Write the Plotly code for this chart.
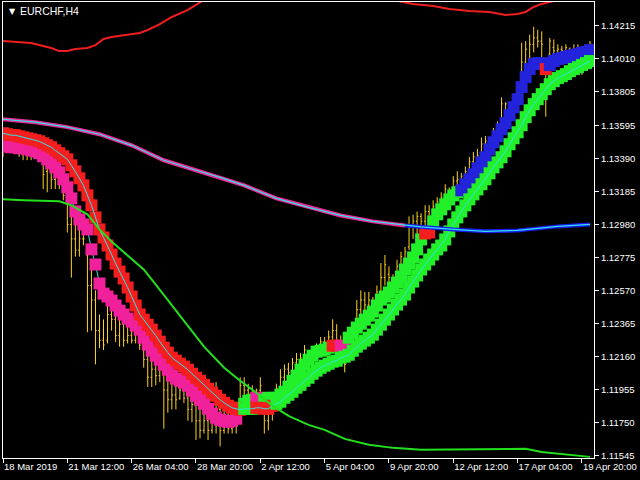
import plotly.graph_objects as go

# ---------------- data ----------------
x_tick_bars = [0, 16, 32, 48, 64, 80, 96, 112, 128, 144]
x_tick_labels = ["18 Mar 2019", "21 Mar 12:00", "26 Mar 04:00", "28 Mar 20:00", "2 Apr 12:00",
                 "5 Apr 04:00", "9 Apr 20:00", "12 Apr 12:00", "17 Apr 04:00", "19 Apr 20:00"]
y_tick_vals = [1.11545, 1.11750, 1.11955, 1.12160, 1.12365, 1.12570, 1.12775, 1.12980,
               1.13185, 1.13390, 1.13595, 1.13805, 1.14010, 1.14215]
y_tick_labels = ["1.11545", "1.11750", "1.11955", "1.12160", "1.12365", "1.12570", "1.12775", "1.12980",
                 "1.13185", "1.13390", "1.13595", "1.13805", "1.14010", "1.14215"]

bars = list(range(147))
high = [1.1355, 1.1354, 1.1352, 1.1351, 1.1350, 1.1348, 1.1348, 1.1346, 1.1346, 1.1345,
        1.1343, 1.1340, 1.1335, 1.1332, 1.1329, 1.1326, 1.1316, 1.1304, 1.1298, 1.1295,
        1.1293, 1.1285, 1.1273, 1.1257, 1.1242, 1.1239, 1.1251, 1.1251, 1.1245, 1.1244,
        1.1239, 1.1237, 1.1236, 1.1242, 1.1232, 1.1226, 1.1221, 1.1217, 1.1217, 1.1214,
        1.1211, 1.1208, 1.1206, 1.1201, 1.1201, 1.1203, 1.1195, 1.1192, 1.1189, 1.1186,
        1.1186, 1.1184, 1.1183, 1.1200, 1.1186, 1.1191, 1.1186, 1.1184, 1.1184, 1.1203,
        1.1203, 1.1199, 1.1198, 1.1196, 1.1203, 1.1189, 1.1190, 1.1189, 1.1199, 1.1208,
        1.1211, 1.1212, 1.1215, 1.1218, 1.1218, 1.1223, 1.1218, 1.1222, 1.1224, 1.1228,
        1.1228, 1.1232, 1.1239, 1.1236, 1.1229, 1.1226, 1.1232, 1.1236, 1.1251, 1.1257,
        1.1256, 1.1256, 1.1253, 1.1260, 1.1274, 1.1279, 1.1272, 1.1267, 1.1276, 1.1281,
        1.1284, 1.1303, 1.1304, 1.1306, 1.1305, 1.1310, 1.1310, 1.1313, 1.1315, 1.1318,
        1.1323, 1.1321, 1.1328, 1.1331, 1.1330, 1.1334, 1.1340, 1.1343, 1.1345, 1.1352,
        1.1353, 1.1351, 1.1358, 1.1362, 1.1377, 1.1374, 1.1374, 1.1374, 1.1383, 1.1411,
        1.1412, 1.1416, 1.1421, 1.1419, 1.1418, 1.1399, 1.1414, 1.1413, 1.1410, 1.1409,
        1.1410, 1.1408, 1.1410, 1.1410, 1.1409, 1.1408, 1.1412]
low = [1.1340, 1.1346, 1.1346, 1.1345, 1.1340, 1.1338, 1.1338, 1.1338, 1.1340, 1.1337,
       1.1320, 1.1318, 1.1320, 1.1320, 1.1320, 1.1313, 1.1293, 1.1265, 1.1278, 1.1278,
       1.1285, 1.1231, 1.1232, 1.1211, 1.1221, 1.1220, 1.1224, 1.1232, 1.1225, 1.1222,
       1.1222, 1.1224, 1.1224, 1.1224, 1.1220, 1.1209, 1.1197, 1.1197, 1.1198, 1.1200,
       1.1171, 1.1181, 1.1183, 1.1183, 1.1189, 1.1187, 1.1176, 1.1175, 1.1164, 1.1165,
       1.1168, 1.1164, 1.1168, 1.1168, 1.1160, 1.1168, 1.1168, 1.1168, 1.1168, 1.1188,
       1.1189, 1.1190, 1.1189, 1.1188, 1.1189, 1.1168, 1.1170, 1.1176, 1.1186, 1.1189,
       1.1192, 1.1195, 1.1198, 1.1201, 1.1204, 1.1208, 1.1209, 1.1211, 1.1214, 1.1217,
       1.1219, 1.1220, 1.1223, 1.1221, 1.1214, 1.1206, 1.1223, 1.1226, 1.1232, 1.1239,
       1.1242, 1.1242, 1.1245, 1.1248, 1.1254, 1.1260, 1.1260, 1.1257, 1.1260, 1.1267,
       1.1273, 1.1282, 1.1289, 1.1292, 1.1295, 1.1295, 1.1293, 1.1298, 1.1300, 1.1303,
       1.1309, 1.1312, 1.1315, 1.1318, 1.1320, 1.1325, 1.1328, 1.1333, 1.1335, 1.1338,
       1.1343, 1.1341, 1.1345, 1.1351, 1.1357, 1.1362, 1.1366, 1.1366, 1.1374, 1.1376,
       1.1393, 1.1399, 1.1405, 1.1408, 1.1401, 1.1365, 1.1402, 1.1402, 1.1399, 1.1404,
       1.1404, 1.1391, 1.1402, 1.1404, 1.1391, 1.1402, 1.1402]
open_ = [1.1351, 1.1352, 1.1351, 1.1350, 1.1346, 1.1345, 1.1343, 1.1345, 1.1343, 1.1343,
         1.1341, 1.1331, 1.1333, 1.1326, 1.1328, 1.1323, 1.1313, 1.1298, 1.1289, 1.1282,
         1.1289, 1.1279, 1.1260, 1.1251, 1.1232, 1.1226, 1.1226, 1.1242, 1.1239, 1.1229,
         1.1236, 1.1226, 1.1229, 1.1226, 1.1229, 1.1223, 1.1214, 1.1203, 1.1208, 1.1204,
         1.1208, 1.1195, 1.1189, 1.1192, 1.1190, 1.1195, 1.1190, 1.1183, 1.1186, 1.1176,
         1.1170, 1.1176, 1.1170, 1.1176, 1.1183, 1.1170, 1.1183, 1.1171, 1.1176, 1.1189,
         1.1198, 1.1195, 1.1196, 1.1192, 1.1195, 1.1187, 1.1176, 1.1183, 1.1187, 1.1196,
         1.1203, 1.1208, 1.1206, 1.1212, 1.1214, 1.1215, 1.1215, 1.1214, 1.1219, 1.1221,
         1.1225, 1.1223, 1.1228, 1.1232, 1.1226, 1.1219, 1.1226, 1.1229, 1.1236, 1.1245,
         1.1251, 1.1248, 1.1251, 1.1251, 1.1256, 1.1265, 1.1267, 1.1265, 1.1260, 1.1272,
         1.1276, 1.1284, 1.1298, 1.1300, 1.1303, 1.1300, 1.1306, 1.1300, 1.1309, 1.1310,
         1.1315, 1.1318, 1.1318, 1.1325, 1.1325, 1.1328, 1.1331, 1.1337, 1.1338, 1.1341,
         1.1348, 1.1350, 1.1346, 1.1354, 1.1357, 1.1366, 1.1373, 1.1370, 1.1376, 1.1381,
         1.1399, 1.1401, 1.1410, 1.1414, 1.1412, 1.1398, 1.1404, 1.1408, 1.1406, 1.1407,
         1.1406, 1.1407, 1.1406, 1.1407, 1.1406, 1.1405, 1.1407]
close = [1.1345, 1.1348, 1.1348, 1.1346, 1.1345, 1.1343, 1.1341, 1.1341, 1.1345, 1.1340,
         1.1329, 1.1335, 1.1326, 1.1328, 1.1323, 1.1316, 1.1298, 1.1289, 1.1282, 1.1289,
         1.1289, 1.1260, 1.1251, 1.1232, 1.1226, 1.1223, 1.1242, 1.1239, 1.1229, 1.1236,
         1.1226, 1.1229, 1.1226, 1.1236, 1.1223, 1.1214, 1.1203, 1.1208, 1.1204, 1.1208,
         1.1195, 1.1189, 1.1192, 1.1189, 1.1195, 1.1190, 1.1183, 1.1186, 1.1176, 1.1170,
         1.1176, 1.1170, 1.1176, 1.1183, 1.1170, 1.1183, 1.1171, 1.1176, 1.1183, 1.1198,
         1.1195, 1.1196, 1.1192, 1.1195, 1.1198, 1.1176, 1.1183, 1.1187, 1.1196, 1.1203,
         1.1208, 1.1206, 1.1212, 1.1214, 1.1215, 1.1220, 1.1214, 1.1219, 1.1221, 1.1225,
         1.1223, 1.1228, 1.1232, 1.1226, 1.1219, 1.1211, 1.1229, 1.1232, 1.1245, 1.1251,
         1.1248, 1.1251, 1.1248, 1.1256, 1.1265, 1.1273, 1.1265, 1.1260, 1.1272, 1.1278,
         1.1281, 1.1298, 1.1300, 1.1303, 1.1300, 1.1306, 1.1300, 1.1309, 1.1312, 1.1315,
         1.1320, 1.1316, 1.1325, 1.1326, 1.1328, 1.1331, 1.1337, 1.1340, 1.1341, 1.1348,
         1.1350, 1.1346, 1.1354, 1.1357, 1.1373, 1.1373, 1.1370, 1.1373, 1.1381, 1.1399,
         1.1407, 1.1410, 1.1414, 1.1412, 1.1410, 1.1377, 1.1412, 1.1406, 1.1407, 1.1406,
         1.1408, 1.1404, 1.1407, 1.1406, 1.1405, 1.1407, 1.1410]

# square-marker bands (one square per bar)
fast_band = [1.13466, 1.13466, 1.13460, 1.13460, 1.13454, 1.13454, 1.13448, 1.13441, 1.13435, 1.13423,
             1.13404, 1.13385, 1.13360, 1.13335, 1.13304, 1.13261, 1.13211, 1.13142, 1.13061, 1.13011,
             1.12980, 1.12949, 1.12825, 1.12731, 1.12613, 1.12550, 1.12532, 1.12507, 1.12476, 1.12444,
             1.12420, 1.12395, 1.12376, 1.12351, 1.12326, 1.12276, 1.12233, 1.12195, 1.12164, 1.12139,
             1.12108, 1.12077, 1.12040, 1.12021, 1.12008, 1.11996, 1.11977, 1.11946, 1.11915, 1.11890,
             1.11865, 1.11834, 1.11803, 1.11778, 1.11765, 1.11759, 1.11753, 1.11759, 1.11772, 1.11840,
             1.11865, 1.11884, 1.11890, 1.11902, 1.11902, 1.11890, 1.11902, 1.11902, 1.11902, 1.11921,
             1.11940, 1.11971, 1.12008, 1.12040, 1.12077, 1.12108, 1.12139, 1.12164, 1.12189, 1.12195,
             1.12202, 1.12214, 1.12226, 1.12226, 1.12226, 1.12214, 1.12276, 1.12307, 1.12339, 1.12363,
             1.12388, 1.12413, 1.12438, 1.12476, 1.12513, 1.12532, 1.12557, 1.12588, 1.12619, 1.12656,
             1.12700, 1.12737, 1.12775, 1.12825, 1.12887, 1.12924, 1.12930, 1.12999, 1.13043, 1.13074,
             1.13105, 1.13136, 1.13161, 1.13180, 1.13192, 1.13230, 1.13261, 1.13292, 1.13329, 1.13366,
             1.13398, 1.13447, 1.13491, 1.13529, 1.13572, 1.13610, 1.13659, 1.13709, 1.13759, 1.13834,
             1.13896, 1.13946, 1.13977, 1.13983, 1.13983, 1.13946, 1.13971, 1.13996, 1.14008, 1.14014,
             1.14021, 1.14027, 1.14033, 1.14039, 1.14046, 1.14052, 1.14064]
fast_state = (["P"] * 59 + ["G"] * 4 + ["P"] * 2 + ["G"] * 17 + ["R"] * 2 + ["P"] * 2 +
              ["G"] * 19 + ["R"] * 2 + ["G"] * 7 + ["B"] * 21 + ["R"] + ["B"] * 11)
slow_band = [1.13547, 1.13541, 1.13535, 1.13535, 1.13528, 1.13522, 1.13516, 1.13510, 1.13504, 1.13497,
             1.13485, 1.13472, 1.13460, 1.13441, 1.13423, 1.13404, 1.13385, 1.13348, 1.13310, 1.13267,
             1.13223, 1.13161, 1.13099, 1.13024, 1.12949, 1.12899, 1.12849, 1.12793, 1.12737, 1.12687,
             1.12644, 1.12588, 1.12532, 1.12476, 1.12420, 1.12388, 1.12357, 1.12326, 1.12289, 1.12251,
             1.12214, 1.12183, 1.12152, 1.12133, 1.12114, 1.12096, 1.12077, 1.12052, 1.12027, 1.12008,
             1.11983, 1.11959, 1.11934, 1.11915, 1.11890, 1.11871, 1.11853, 1.11840, 1.11834, 1.11828,
             1.11834, 1.11834, 1.11834, 1.11840, 1.11840, 1.11834, 1.11834, 1.11853, 1.11865, 1.11878,
             1.11902, 1.11921, 1.11940, 1.11965, 1.11983, 1.12008, 1.12027, 1.12052, 1.12071, 1.12089,
             1.12102, 1.12114, 1.12127, 1.12133, 1.12152, 1.12158, 1.12170, 1.12195, 1.12220, 1.12239,
             1.12258, 1.12276, 1.12295, 1.12326, 1.12357, 1.12388, 1.12420, 1.12451, 1.12482, 1.12513,
             1.12544, 1.12588, 1.12625, 1.12663, 1.12700, 1.12731, 1.12762, 1.12793, 1.12825, 1.12849,
             1.12887, 1.12937, 1.12980, 1.13024, 1.13061, 1.13099, 1.13136, 1.13167, 1.13198, 1.13230,
             1.13261, 1.13298, 1.13335, 1.13366, 1.13398, 1.13435, 1.13479, 1.13516, 1.13553, 1.13597,
             1.13647, 1.13690, 1.13728, 1.13759, 1.13790, 1.13821, 1.13852, 1.13871, 1.13890, 1.13902,
             1.13915, 1.13933, 1.13946, 1.13958, 1.13971, 1.13983, 1.13996]
slow_state = ["R"] * 60 + ["G"] * 3 + ["R"] * 5 + ["G"] * 79

# long moving average (pink part, then blue part)
ma_bars = [0, 8, 16, 24, 32, 40, 48, 54, 60, 68, 76, 84, 92, 100, 104, 112, 120, 128, 138, 146]
ma_vals = [1.13634, 1.13616, 1.13585, 1.13541, 1.13472, 1.13379, 1.13317, 1.13273, 1.13223, 1.13142,
           1.13086, 1.13036, 1.12999, 1.12974, 1.12965, 1.12949, 1.12937, 1.12943, 1.12968, 1.12980]
ma_turn_bar = 100

# lower green envelope
low_env_bars = [0, 5, 14, 17, 21, 24, 27, 31, 35, 38, 42, 46, 50, 55, 59, 63, 67, 71, 76, 80,
                85, 91, 97, 104, 119, 130, 134, 139, 146]
low_env_vals = [1.13136, 1.13130, 1.13124, 1.13099, 1.13043, 1.12949, 1.12874, 1.12787, 1.12700, 1.12606,
                1.12476, 1.12345, 1.12220, 1.12089, 1.12008, 1.11934, 1.11853, 1.11790, 1.11734, 1.11703,
                1.11647, 1.11610, 1.11591, 1.11579, 1.11585, 1.11585, 1.11566, 1.11554, 1.11535]

# upper red envelope
up_env_bars = [0, 3, 7, 10, 12, 14, 16, 18, 21, 23, 25, 27, 31, 34, 36, 39, 42, 46, 48, 50,
               56, 64, 74, 84, 92, 97, 98, 102, 107, 111, 116, 121, 125, 128, 130, 132, 134, 136,
               138, 141, 146]
up_env_vals = [1.14120, 1.14114, 1.14108, 1.14089, 1.14077, 1.14058, 1.14058, 1.14071, 1.14077, 1.14095,
               1.14133, 1.14145, 1.14158, 1.14170, 1.14189, 1.14226, 1.14270, 1.14314, 1.14345, 1.14376,
               1.14457, 1.14519, 1.14556, 1.14538, 1.14457, 1.14388, 1.14370, 1.14351, 1.14338, 1.14320,
               1.14307, 1.14301, 1.14282, 1.14289, 1.14301, 1.14332, 1.14351, 1.14363, 1.14376, 1.14413,
               1.14457]

# ---------------- styles ----------------
state_colors = {"P": "#F0219B", "R": "#F51E1E", "G": "#22F02A", "B": "#2323DC"}
YELLOW = "#FFD21F"
CYAN = "#2EE6E6"
FONT = "Liberation Sans"
SQ = 12

fig = go.Figure()

fig.add_trace(go.Scatter(x=up_env_bars, y=up_env_vals, mode="lines",
                         line=dict(color="#F01E1E", width=2), hoverinfo="skip"))

fig.add_trace(go.Ohlc(x=bars, open=open_, high=high, low=low, close=close,
                      increasing=dict(line=dict(color=YELLOW, width=1)),
                      decreasing=dict(line=dict(color=YELLOW, width=1)),
                      tickwidth=0.3, hoverinfo="skip"))

fig.add_trace(go.Scatter(x=bars, y=fast_band, mode="lines",
                         line=dict(color=CYAN, width=1), hoverinfo="skip"))

# fast band first, slow band drawn over it
fig.add_trace(go.Scatter(x=bars, y=fast_band, mode="markers",
                         marker=dict(symbol="square", size=SQ,
                                     color=[state_colors[s] for s in fast_state],
                                     line=dict(width=0)), hoverinfo="skip"))
fig.add_trace(go.Scatter(x=bars, y=slow_band, mode="markers",
                         marker=dict(symbol="square", size=SQ,
                                     color=[state_colors[s] for s in slow_state],
                                     line=dict(width=0)), hoverinfo="skip"))

fig.add_trace(go.Scatter(x=bars, y=slow_band, mode="lines",
                         line=dict(color=CYAN, width=1), hoverinfo="skip"))

# long MA: pink then blue with thin cyan core
pink_x = [b for b in ma_bars if b <= ma_turn_bar]
pink_y = [v for b, v in zip(ma_bars, ma_vals) if b <= ma_turn_bar]
blue_x = [b for b in ma_bars if b >= ma_turn_bar]
blue_y = [v for b, v in zip(ma_bars, ma_vals) if b >= ma_turn_bar]
fig.add_trace(go.Scatter(x=pink_x, y=pink_y, mode="lines",
                         line=dict(color="#F0289A", width=4), hoverinfo="skip"))
fig.add_trace(go.Scatter(x=blue_x, y=blue_y, mode="lines",
                         line=dict(color="#1A1AF0", width=4), hoverinfo="skip"))
fig.add_trace(go.Scatter(x=ma_bars, y=ma_vals, mode="lines",
                         line=dict(color=CYAN, width=1.2), hoverinfo="skip"))

fig.add_trace(go.Scatter(x=low_env_bars, y=low_env_vals, mode="lines",
                         line=dict(color="#22E01E", width=2), hoverinfo="skip"))

fig.update_layout(
    width=640, height=480,
    margin=dict(l=3, r=46, t=2, b=22),
    paper_bgcolor="black", plot_bgcolor="black",
    showlegend=False, hovermode=False,
    font=dict(family=FONT, size=9.5, color="white"),
    xaxis=dict(range=[0, 147], showgrid=False, zeroline=False,
               tickmode="array", tickvals=x_tick_bars, ticktext=x_tick_labels,
               ticks="outside", ticklen=4, tickcolor="white", tickangle=0,
               ticklabelposition="outside right", automargin=False,
               showline=True, linecolor="white", linewidth=1, mirror=True,
               rangeslider=dict(visible=False), fixedrange=True),
    yaxis=dict(range=[1.11528, 1.14363], side="right", showgrid=False, zeroline=False,
               tickmode="array", tickvals=y_tick_vals, ticktext=y_tick_labels,
               ticks="outside", ticklen=4, tickcolor="white", automargin=False,
               showline=True, linecolor="white", linewidth=1, mirror=True, fixedrange=True),
)

fig.add_annotation(xref="paper", yref="paper", x=0.006, y=0.98, xanchor="left", yanchor="middle",
                   text="▼", showarrow=False, font=dict(family="DejaVu Sans", size=8, color="white"))
fig.add_annotation(xref="paper", yref="paper", x=0.025, y=0.98, xanchor="left", yanchor="middle",
                   text="EURCHF,H4", showarrow=False, font=dict(family=FONT, size=10.5, color="white"))

fig.write_html("out.html", config={"displayModeBar": False},
               post_script="document.body.style.margin='0px';document.body.style.overflow='hidden';")
